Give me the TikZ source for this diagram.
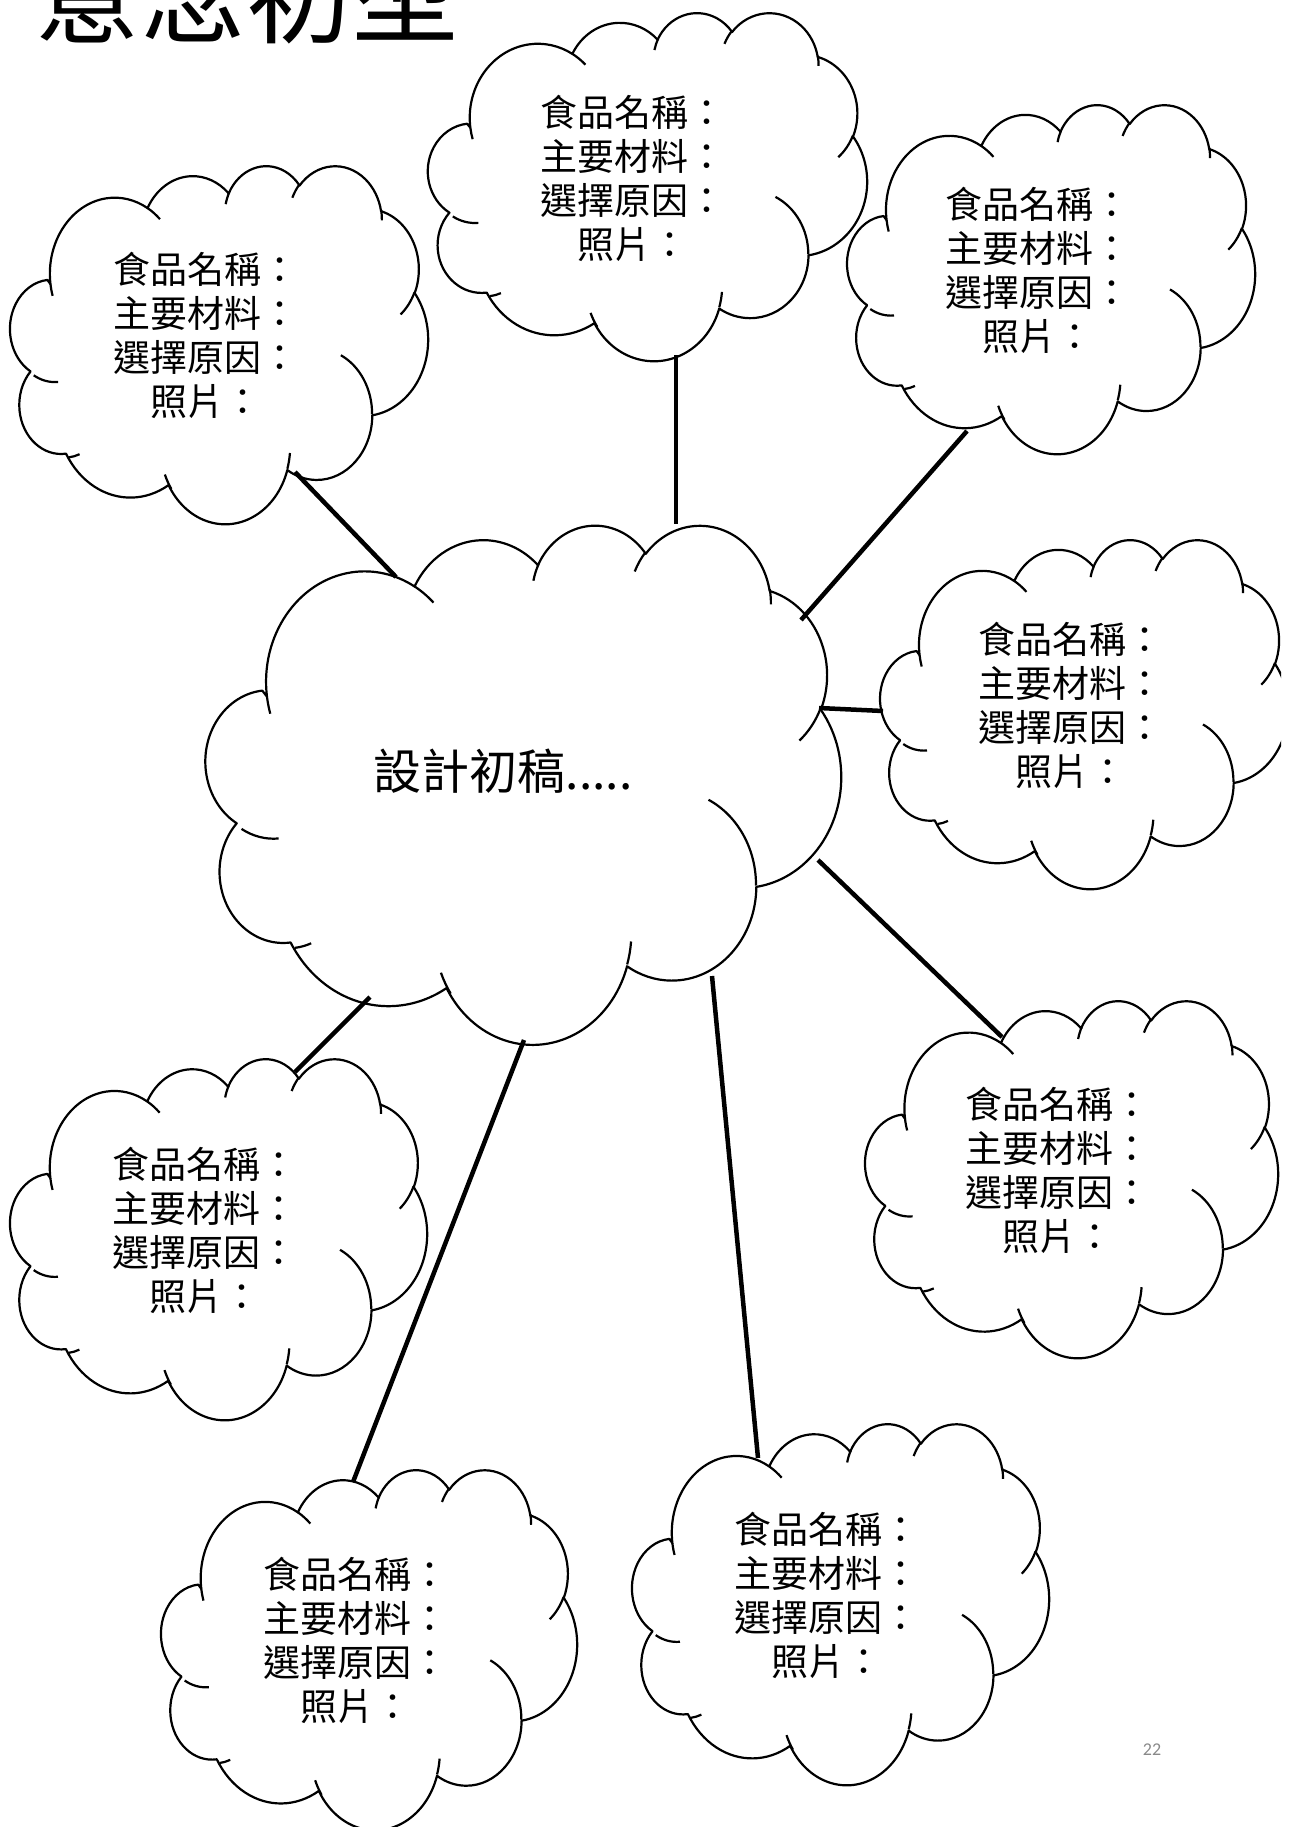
\documentclass[tikz,border=0pt]{standalone}
\usepackage{fontspec}
\usepackage{xfp}
\newfontfamily\cjk{Noto Sans CJK TC}
\newfontfamily\pgnum{Carlito}
\definecolor{pgray}{RGB}{137,137,137}

% OOXML-style arc helpers (visual angle -> parametric angle)
\newcommand\PA[3]{atand((#1)*sind((#3)/60000),(#2)*cosd((#3)/60000))}
\newcommand\DL[4]{(\PA{#1}{#2}{(#3)+(#4)}-\PA{#1}{#2}{#3})}
\newcommand\DF[4]{((#4)>0)?((\DL{#1}{#2}{#3}{#4}<0)?(\DL{#1}{#2}{#3}{#4}+360):(\DL{#1}{#2}{#3}{#4})):((\DL{#1}{#2}{#3}{#4}>0)?(\DL{#1}{#2}{#3}{#4}-360):(\DL{#1}{#2}{#3}{#4}))}
\newcommand\OA[4]{arc[start angle=\fpeval{round(\PA{#1}{#2}{#3},4)},delta angle=\fpeval{round(\DF{#1}{#2}{#3}{#4},4)},x radius=\fpeval{round((#1)/432,4)}pt,y radius=\fpeval{round((#2)/432,4)}pt]}
\newcommand\MT[2]{(\fpeval{round((#1)/432,4)},\fpeval{round((#2)/432,4)})}

\edef\cloudmain{\MT{3900}{14370}
 \OA{6753}{9190}{-11429249}{7426832}
 \OA{5333}{7267}{-8646143}{5396714}
 \OA{4365}{5945}{-8748475}{5983381}
 \OA{4857}{6595}{-7859164}{7034504}
 \OA{5333}{7273}{-4722533}{6541615}
 \OA{6775}{9220}{-2776035}{7816140}
 \OA{5785}{7867}{37501}{6842000}
 \OA{6752}{9215}{1347236}{7217954}
 \OA{7720}{10543}{3974558}{4542661}
 \OA{4360}{5918}{-16496525}{8804134}
 \OA{4345}{5945}{-14809710}{9151131}
 -- cycle}
\edef\cloudinner{
 \MT{4693}{26177} \OA{4345}{5945}{5204520}{1585770}
 \MT{6928}{34899} \OA{4360}{5918}{4416628}{686848}
 \MT{16478}{39090} \OA{6752}{9215}{8257449}{844866}
 \MT{28827}{34751} \OA{6752}{9215}{387196}{959901}
 \MT{34129}{22954} \OA{5785}{7867}{-4217541}{4255042}
 \MT{41798}{15354} \OA{5333}{7273}{1819082}{1665090}
 \MT{38324}{5426} \OA{4857}{6595}{-824660}{891534}
 \MT{29078}{3952} \OA{4857}{6595}{-8950887}{1091722}
 \MT{22141}{4720} \OA{4365}{5945}{-9809656}{1061181}
 \MT{14000}{5192} \OA{6753}{9190}{-4002417}{739161}
 \MT{4127}{15789} \OA{6753}{9190}{9459261}{711490}}

\tikzset{
  cloudshape/.style={draw=black, fill=white, line width=2.2pt, line join=round},
  cloudarc/.style={draw=black, line width=2.2pt},
  link/.style={draw=black, line width=4.5pt},
  cloudtext/.style={font=\cjk\fontsize{37}{44}\selectfont, align=center, inner sep=0pt},
  centertext/.style={font=\cjk\fontsize{48}{56}\selectfont, inner sep=0pt},
  titletext/.style={font=\cjk\fontsize{106}{110}\selectfont, inner sep=0pt, anchor=base west},
  pagenum/.style={font=\pgnum\fontsize{18}{20}\selectfont, text=pgray, inner sep=0pt}
}

% #1 left, #2 top, #3 width, #4 height
\newcommand\drawcloud[4]{%
  \begin{scope}[shift={(#1,#2)}, xscale=#3/100, yscale=#4/100]
    \path[cloudshape] \cloudmain;
    \path[cloudarc] \cloudinner;
  \end{scope}}
\newcommand\foodtext{食品名稱：\\主要材料：\\選擇原因：\\照片：}

\begin{document}
\begin{tikzpicture}[x=1pt, y=1pt, yscale=-1]
\useasboundingbox (0,0) rectangle (1293,1827);

% title (cut off at the top)
\node[titletext] (title) at (34,36) {意念初型};

\begin{scope}
  \clip (0,-200) rectangle (1281,1827);
  \drawcloud{13}{165}{415}{358}   % A
  \drawcloud{431}{12}{436}{348}   % C
  \drawcloud{850}{104}{405}{349}  % D
  \drawcloud{883}{539}{405}{349}  % E
  \drawcloud{868}{1000}{410}{357} % F
  \drawcloud{13}{1058}{414}{361}  % G
  \drawcloud{164}{1469}{413}{360} % H
  \drawcloud{635}{1423}{414}{361} % I
  \drawcloud{210}{524}{631}{519}  % B (centre)
\end{scope}

% texts
\node[cloudtext] (A) at ({13+0.4644*415},{165+0.4768*358}) {\foodtext};
\node[cloudtext] (C) at ({431+0.4644*436},{12+0.4768*348}) {\foodtext};
\node[cloudtext] (D) at ({850+0.4644*405},{104+0.4768*349}) {\foodtext};
\node[cloudtext] (E) at ({883+0.4644*405},{539+0.4768*349}) {\foodtext};
\node[cloudtext] (F) at ({868+0.4644*410},{1000+0.4768*357}) {\foodtext};
\node[cloudtext] (G) at ({13+0.4644*414},{1058+0.4768*361}) {\foodtext};
\node[cloudtext] (H) at ({164+0.4644*413},{1469+0.4768*360}) {\foodtext};
\node[cloudtext] (I) at ({635+0.4644*414},{1423+0.4768*361}) {\foodtext};
\node[centertext] (B) at ({210+0.4644*631},{524+0.4768*519}) {設計初稿.....};

% connector end points
\coordinate (A-o) at (295,472);   \coordinate (B-a) at (396,577);
\coordinate (C-o) at (676,355);   \coordinate (B-c) at (676,524);
\coordinate (D-o) at (967,431);   \coordinate (B-d) at (801,620);
\coordinate (E-o) at (883,711);   \coordinate (B-e) at (819,708);
\coordinate (F-o) at (1002,1037); \coordinate (B-f) at (818,860);
\coordinate (G-o) at (295,1072);  \coordinate (B-g) at (370,997);
\coordinate (H-o) at (353,1482);  \coordinate (B-h) at (524,1040);
\coordinate (I-o) at (758,1458);  \coordinate (B-i) at (712,976);

\draw[link] (A-o) -- (B-a);
\draw[link] (C-o) -- (B-c);
\draw[link] (D-o) -- (B-d);
\draw[link] (E-o) -- (B-e);
\draw[link] (F-o) -- (B-f);
\draw[link] (G-o) -- (B-g);
\draw[link] (H-o) -- (B-h);
\draw[link] (I-o) -- (B-i);

% page number
\node[pagenum] (page) at (1152,1750) {22};
\end{tikzpicture}
\end{document}
